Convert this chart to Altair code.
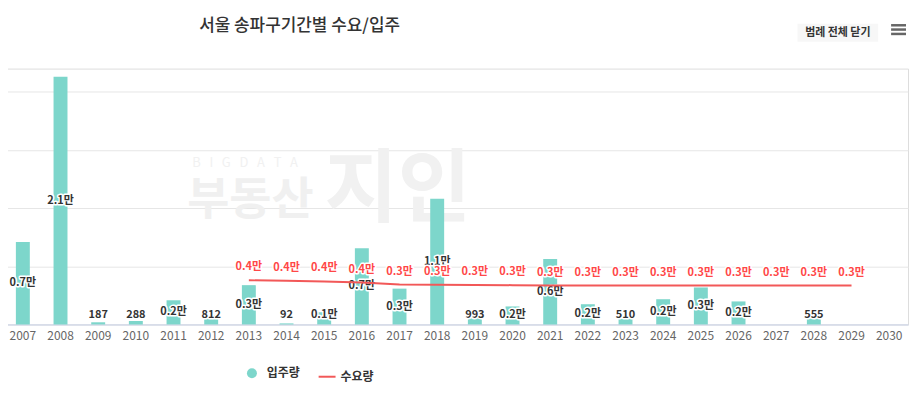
import altair as alt
import pandas as pd

FONT = "Noto Sans CJK KR"
TEAL = "#7dd6cb"
RED = "#f25858"
RED_TXT = "#ff4747"

years = [str(y) for y in range(2007, 2031)]
supply = [7100, 21300, 187, 288, 2080, 812, 3380, 92, 1050, 6550, 3080, 10800,
          993, 1550, 5620, 1740, 510, 2170, 3180, 1980, None, 555, None, None]
demand_years = [str(y) for y in range(2013, 2030)]
demand = [3800, 3750, 3700, 3600, 3430, 3420, 3400, 3380, 3350, 3350, 3350,
          3350, 3350, 3350, 3350, 3350, 3350]
grid_values = [0, 5000, 10000, 15000, 20000]

TITLE = "서울 송파구기간별 수요/입주"
BUTTON = "범례 전체 닫기"
NB = "\u00a0"
WATERMARK_SMALL = (NB * 3).join(list("BIGDATA"))


def fmt(v):
    return f"{v/10000:.1f}만" if v >= 1000 else f"{int(v)}"


bars_df = pd.DataFrame({"year": years, "v": supply}).dropna()
bars_df["lab"] = [fmt(v) for v in bars_df["v"]]
bars_df["s"] = "입주량"
line_df = pd.DataFrame({"year": demand_years, "v": demand})
line_df["lab"] = [fmt(v) for v in line_df["v"]]
line_df["s"] = "수요량"

xscale = alt.Scale(domain=years, paddingInner=0.63, paddingOuter=0.315)
yscale = alt.Scale(domain=[0, 22000], nice=False, zero=True)

X = alt.X("year:O", scale=xscale,
          axis=alt.Axis(title=None, labelAngle=0, ticks=False, domainColor="#ccd6eb",
                        domainWidth=1, labelColor="#666666", labelFontSize=12,
                        labelPadding=6, labelFont=FONT, grid=False))


def Y(field):
    return alt.Y(f"{field}:Q", scale=yscale,
                 axis=alt.Axis(title=None, values=grid_values, labels=False, ticks=False,
                               domain=False, gridColor="#e6e6e6", grid=True))


base_b = alt.Chart(bars_df)
base_l = alt.Chart(line_df)

# watermark
wm1 = alt.Chart(pd.DataFrame({"t": [WATERMARK_SMALL]})).mark_text(
    font=FONT, fontSize=13, color="#f1f1f1", align="left", baseline="middle"
).encode(x=alt.value(189), y=alt.value(95), text="t:N")
wm2 = alt.Chart(pd.DataFrame({"t": ["부동산"]})).mark_text(
    font=FONT, fontSize=46, fontWeight="bold", color="#f0f0f0", align="left", baseline="middle"
).encode(x=alt.value(184), y=alt.value(133), text="t:N")
wm3 = alt.Chart(pd.DataFrame({"t": ["지인"]})).mark_text(
    font=FONT, fontSize=80, fontWeight="bold", color="#f1f1f1", align="left", baseline="middle"
).encode(x=alt.value(322), y=alt.value(123), text="t:N")

bars = base_b.mark_bar(color=TEAL).encode(
    x=X, y=Y("v"),
    fill=alt.Fill("s:N", scale=alt.Scale(domain=["입주량"], range=[TEAL]),
                  legend=alt.Legend(orient="none", legendX=243, legendY=300, title=None,
                                    symbolType="circle", symbolSize=100, symbolStrokeWidth=0,
                                    labelFont=FONT, labelFontSize=12, labelFontWeight="bold",
                                    labelColor="#333333", labelOffset=9, padding=0)),
)

lab_enc = dict(x=X, y=Y("ly"), text="lab:N")
bar_halo = base_b.transform_calculate(ly="max(datum.v / 2, 800)").mark_text(
    font=FONT, fontSize=11, fontWeight="bold", color="white", stroke="white",
    strokeWidth=3, strokeJoin="round", baseline="middle"
).encode(**lab_enc)
bar_text = base_b.transform_calculate(ly="max(datum.v / 2, 800)").mark_text(
    font=FONT, fontSize=11, fontWeight="bold", color="#333333", baseline="middle"
).encode(**lab_enc)

line = base_l.mark_line(strokeWidth=2).encode(
    x=X, y=Y("v"),
    stroke=alt.Stroke("s:N", scale=alt.Scale(domain=["수요량"], range=[RED]),
                      legend=alt.Legend(orient="none", legendX=315, legendY=300, title=None,
                                        symbolType="stroke", symbolSize=289, symbolStrokeWidth=2,
                                        labelFont=FONT, labelFontSize=12, labelFontWeight="bold",
                                        labelColor="#333333", labelOffset=4, padding=0)),
)
line_halo = base_l.mark_text(
    font=FONT, fontSize=11, fontWeight="bold", color="white", stroke="white",
    strokeWidth=3, strokeJoin="round", baseline="middle", dy=-13
).encode(x=X, y=Y("v"), text="lab:N")
line_text = base_l.mark_text(
    font=FONT, fontSize=11, fontWeight="bold", color=RED_TXT, baseline="middle", dy=-13
).encode(x=X, y=Y("v"), text="lab:N")

title = alt.Chart(pd.DataFrame({"t": [TITLE]})).mark_text(
    font=FONT, fontSize=17, fontWeight=500, color="#333333", align="left", baseline="middle"
).encode(x=alt.value(196), y=alt.value(-42.5), text="t:N")

btn_box = alt.Chart(pd.DataFrame({"t": [BUTTON]})).mark_rect(color="#f7f7f7").encode(
    x=alt.value(797), x2=alt.value(878), y=alt.value(-45), y2=alt.value(-27))
btn_text = alt.Chart(pd.DataFrame({"t": [BUTTON]})).mark_text(
    font=FONT, fontSize=11, fontWeight="bold", color="#333333", align="center", baseline="middle"
).encode(x=alt.value(837.5), y=alt.value(-36), text="t:N")
menu = [
    alt.Chart(pd.DataFrame({"t": [i]})).mark_rule(color="#666666", strokeWidth=2.5).encode(
        x=alt.value(891), x2=alt.value(906), y=alt.value(yy))
    for i, yy in enumerate([-43.5, -39.2, -34.8])
]

chart = alt.layer(
    wm1, wm2, wm3, bars, bar_halo, bar_text, line, line_halo, line_text,
    title, btn_box, btn_text, *menu
).properties(
    width=908, height=257,
    padding={"left": -4, "top": 60, "right": 4, "bottom": 70},
    autosize=alt.AutoSizeParams(type="none"),
).configure_view(stroke=None).configure(background="white")

chart.save("out.html", embed_options={"renderer": "svg", "actions": False})
